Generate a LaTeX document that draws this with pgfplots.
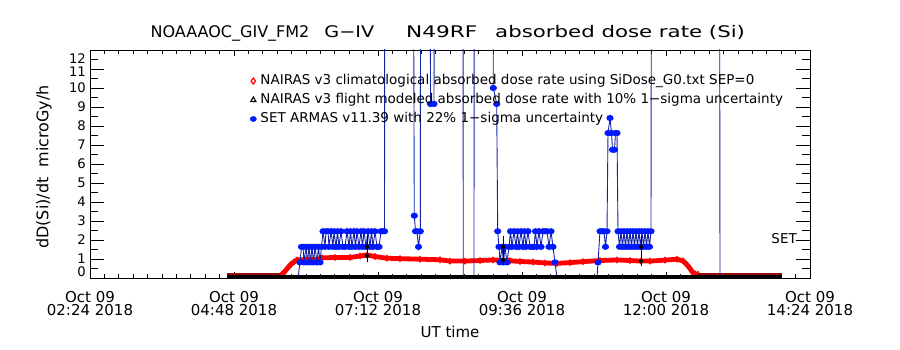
\documentclass[border=0pt]{standalone}
\usepackage{fontspec}
\setmainfont{DejaVu Sans}
\usepackage{graphicx}
\usepackage{pgfplots}
\pgfplotsset{compat=1.18}
\definecolor{armasline}{RGB}{20,35,165}
\definecolor{armasmark}{RGB}{0,25,255}
\definecolor{nred}{RGB}{255,0,0}
\definecolor{ndark}{RGB}{150,10,10}
\begin{document}
\begin{tikzpicture}
\useasboundingbox (-90pt,-72pt) rectangle (810pt,278pt);
\begin{axis}[
  at={(0pt,0pt)}, anchor=south west,
  scale only axis, width=720pt, height=228pt,
  xmin=144, xmax=864, ymin=0, ymax=12,
  clip marker paths=true,
  xtick={144,288,432,576,720,864},
  xticklabels={{Oct 09\\02:24 2018},{Oct 09\\04:48 2018},{Oct 09\\07:12 2018},{Oct 09\\09:36 2018},{Oct 09\\12:00 2018},{Oct 09\\14:24 2018}},
  minor x tick num=9,
  ytick={0,1,2,3,4,5,6,7,8,9,10,11,12},
  yticklabels={\raisebox{6pt}[9.6pt][0pt]{0},1,2,3,4,5,6,7,8,9,10,\raisebox{-2.5pt}[9.6pt][0pt]{11},\raisebox{-8.5pt}[9.6pt][0pt]{12}},
  minor y tick num=1,
  tick align=inside,
  /pgf/number format/assume math mode=true,
  xtick style={/pgfplots/major tick length=6pt,/pgfplots/minor tick length=4pt,line width=0.8pt,black},
  ytick style={/pgfplots/major tick length=14pt,/pgfplots/minor tick length=8pt,line width=0.8pt,black},
  axis line style={line width=0.8pt},
  xticklabel style={font=\fontsize{15}{13.3}\selectfont, align=center, inner sep=0pt, anchor=north, yshift=-12.7pt},
  yticklabel style={font=\fontsize{13.2}{13.2}\selectfont, inner sep=0pt, anchor=east, xshift=-4pt},
  title={NOAAAOC\_GIV\_FM2\hspace{15pt}\scalebox{1.2}[1]{G−IV}\hspace{32pt}\scalebox{1.35}[1]{N49RF}\hspace{18pt}\scalebox{1.33}[1]{absorbed dose rate (Si)}},
  title style={at={(axis description cs:0.497,1.0294)}, anchor=base, font=\fontsize{16}{16}\selectfont, inner sep=0pt},
  xlabel={UT time},
  xlabel style={at={(axis description cs:0.5,-0.263)}, anchor=base, font=\fontsize{15}{15}\selectfont, inner sep=0pt},
  ylabel={dD(Si)/dt\ \ microGy/h},
  ylabel style={at={(axis description cs:-0.0639,0.487)}, anchor=center, font=\fontsize{16}{16}\selectfont, inner sep=0pt},
  legend image code/.code={\draw[#1] plot coordinates {(0cm,0cm)};},
  legend style={at={(axis cs:304,10.72)}, anchor=north west, draw=none, fill=none, inner sep=0pt,
    font=\fontsize{13.5}{14}\selectfont, row sep=6pt,
    nodes={inner sep=0pt, text height=10pt, text depth=3pt},
    /tikz/every odd column/.append style={column sep=4pt}},
  legend cell align=left,
]
% NAIRAS climatological, low baseline before take-off
\addplot[ndark, line width=2.4pt, forget plot] coordinates {(281,0.2) (300,0.2) (320,0.2) (336,0.2)};
% NAIRAS climatological, main
\addplot[nred, line width=4.8pt, mark=diamond, mark size=3pt, mark options={line width=0.8pt, solid}, forget plot] coordinates {
(336,0.2) (339,0.35) (342,0.55) (345,0.72) (348,0.85) (351,0.95) (359,0.97) (371,0.97) (376,1.06)
(389,1.08) (404,1.08) (414,1.16) (421,1.21) (429,1.13) (441,1.04) (454,1.02) (474,0.99) (494,0.96)
(504,0.89) (519,0.89) (534,0.92) (547,0.95) (564,0.91) (574,0.87) (587,0.84) (599,0.79) (611,0.77)
(624,0.81) (637,0.86) (654,0.92) (671,0.95) (684,0.92) (695,0.89) (704,0.89) (719,0.94) (731,0.99)
(737,0.9) (741,0.7) (744,0.5) (746,0.34) (749,0.22) (752,0.2)};
% NAIRAS climatological, low baseline after landing
\addplot[ndark, line width=2.4pt, forget plot] coordinates {(752,0.2) (780,0.2) (810,0.2) (836,0.2)};
% SET ARMAS
\addplot[armasline, line width=0.9pt, mark=*, mark size=2.6pt, mark options={fill=armasmark, draw=armasmark, xscale=1.2}, forget plot] coordinates {
(352,0) (354,0.82) (355.5,1.64) (357,1.64) (358,0.82) (360,1.64) (361.5,0.82) (363,1.64) (364.5,0.82)
(366,1.64) (367.5,0.82) (369,1.64) (371,0.82) (372.5,1.64) (374,0.82) (375.5,1.64) (377,2.46)
(379,1.64) (380,2.46) (382,2.46) (383,1.64) (385,2.46) (387,1.64) (388,2.46) (390,1.64) (391.5,2.46)
(393,1.64) (395,2.46) (397,1.64) (399,1.64) (401,2.46) (403,1.64) (404.5,2.46) (406,1.64) (408,2.46)
(409.5,1.64) (411,2.46) (413,1.64) (415,2.46) (416.5,1.64) (418,2.46) (420,1.64) (422,2.46) (424,1.64)
(425.5,2.46) (427,1.64) (429,2.46) (431,1.64) (433,1.64) (435,2.46) (437,2.46) (438.5,2.46)
(439,30) (466.7,30) (468.3,3.28) (469.5,2.46) (471,2.46) (472.5,1.64) (474.3,2.46) (474.8,30)
(484,30) (484.5,9.16) (488,9.16) (489,30)
(516.7,30) (517.3,0) (528,0) (528.3,30)
(546.7,30) (547.3,10.0) (550.7,9.16) (551.7,2.46)
(553,1.64) (554,0.82) (556,1.64) (557.5,0.82) (559,1.64) (561,0.82) (563,1.64) (564.5,2.46) (566,1.64)
(568,2.46) (570,1.64) (571.5,2.46) (573,1.64) (575,2.46) (577,1.64) (578.5,2.46) (580,1.64) (582,2.46)
(584,1.64) (586,1.64) (588,1.64) (589.5,2.46) (591,1.64) (593,2.46) (595,1.64) (597,2.46) (599,2.46)
(601,2.46) (603,1.64) (605,2.46) (607,1.64) (609,0.82) (611,0)
(651,0) (652,0.82) (654,2.46) (656,2.46) (658,2.46) (659.5,1.64) (661,2.46) (662,7.63) (664,8.42)
(665.5,7.63) (666.5,6.75) (668.5,6.75) (669.5,7.63) (671,7.63) (672,2.46)
(673.5,1.64) (675,2.46) (676.5,1.64) (678,2.46) (679.5,1.64) (681,2.46) (682.5,1.64) (684,2.46)
(685.5,1.64) (687,2.46) (688.5,1.64) (690,2.46) (691.5,1.64) (693,2.46) (694.5,1.64) (696,2.46)
(697.5,1.64) (699,2.46) (700.5,1.64) (702,2.46) (703.5,1.64) (705,2.46)
(705.7,30) (773.3,30) (774,0)};
% NAIRAS flight modeled
\addplot[black, line width=5pt, forget plot] coordinates {(281,0) (350,0) (450,0) (550,0) (650,0) (750,0) (836,0)};
% uncertainty bars: ARMAS 22 %
\addplot[black, only marks, mark=none, forget plot,
  error bars/.cd, y dir=both, y explicit, error mark=-,
  error mark options={black, mark size=4pt, line width=0.9pt},
  error bar style={black, line width=0.9pt}]
  coordinates {(421,1.64) +- (0,0.36) (557,1.64) +- (0,0.36) (695,1.64) +- (0,0.36)};
% uncertainty bars: NAIRAS 10 %
\addplot[black, only marks, mark=none, forget plot,
  error bars/.cd, y dir=both, y explicit, error mark=-,
  error mark options={black, mark size=3.5pt, line width=0.9pt},
  error bar style={black, line width=0.9pt}]
  coordinates {(421,1.17) +- (0,0.12) (557,0.95) +- (0,0.1) (695,0.88) +- (0,0.09)};
\addlegendimage{only marks, mark=diamond, mark size=3pt, nred, mark options={line width=1.2pt}}
\addlegendentry{NAIRAS v3 climatological absorbed dose rate using SiDose\_G0.txt SEP=0}
\addlegendimage{only marks, mark=triangle, mark size=3pt, black, mark options={line width=1.1pt}}
\addlegendentry{NAIRAS v3 flight modeled absorbed dose rate with 10\% 1−sigma uncertainty}
\addlegendimage{only marks, mark=*, mark size=2.6pt, armasmark, mark options={xscale=1.2}}
\addlegendentry{SET ARMAS v11.39 with 22\% 1−sigma uncertainty}
\node[font=\fontsize{13.5}{14}\selectfont, anchor=east, inner sep=0pt] at (axis cs:851,2.1) {SET};
\end{axis}
\end{tikzpicture}
\end{document}
